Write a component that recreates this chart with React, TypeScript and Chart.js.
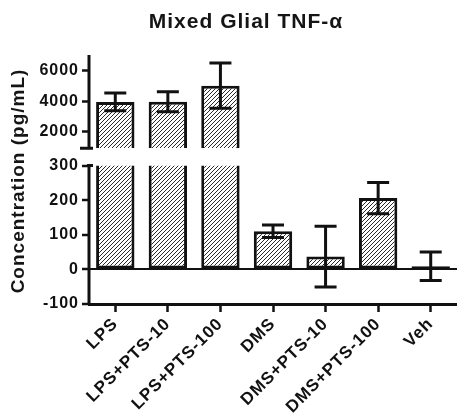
import React, { useEffect, useRef } from 'react';
import { Chart, registerables } from 'chart.js';

Chart.register(...registerables);

const categories = ['LPS', 'LPS+PTS-10', 'LPS+PTS-100', 'DMS', 'DMS+PTS-10', 'DMS+PTS-100', 'Veh'];
const means = [3960, 3975, 5030, 110, 37, 206, 9];
const sem = [590, 660, 1490, 18, 88, 45, 41];
const upperTicks = [2000, 4000, 6000];
const lowerTicks = [-100, 0, 100, 200, 300];
const upperRange = [900, 7050];
const lowerRange = [-100, 300];
const lowerScaleMax = 350;
const chartTitle = 'Mixed Glial TNF-\u03b1';
const yTitle = 'Concentration (pg/mL)';

const FONT = '"Liberation Sans", Arial, Helvetica, sans-serif';
const INK = '#111';

function makeHatch(ctx: CanvasRenderingContext2D): CanvasPattern | string {
  const c = document.createElement('canvas');
  c.width = 4;
  c.height = 4;
  const g = c.getContext('2d');
  if (!g) return '#999';
  g.fillStyle = '#ffffff';
  g.fillRect(0, 0, 4, 4);
  g.strokeStyle = '#2a2a2a';
  g.lineWidth = 1;
  g.beginPath();
  g.moveTo(0, 4); g.lineTo(4, 0);
  g.moveTo(-1, 1); g.lineTo(1, -1);
  g.moveTo(3, 5); g.lineTo(5, 3);
  g.stroke();
  return ctx.createPattern(c, 'repeat') || '#999';
}

const spacingPlugin = {
  id: 'spacing',
  beforeDraw(chart: any) {
    (chart.ctx as any).letterSpacing = '1px';
  },
};

const decorPlugin = {
  id: 'decor',
  afterDraw(chart: any) {
    const ctx: CanvasRenderingContext2D = chart.ctx;
    const xs = chart.scales.x;
    const top = chart.scales.yTop;
    const bot = chart.scales.yBot;
    const ax = chart.chartArea.left;
    ctx.save();
    ctx.strokeStyle = INK;
    ctx.lineWidth = 3;
    ctx.lineCap = 'butt';
    // broken y axis segments
    ctx.beginPath();
    const uTop = top.getPixelForValue(upperRange[1]);
    const uBot = top.getPixelForValue(upperRange[0]);
    ctx.moveTo(ax, uTop);
    ctx.lineTo(ax, uBot);
    ctx.moveTo(ax - 9, uBot);
    ctx.lineTo(ax + 4, uBot);
    const lTop = bot.getPixelForValue(lowerRange[1]);
    const lBot = bot.getPixelForValue(lowerRange[0]);
    ctx.moveTo(ax, lTop);
    ctx.lineTo(ax, lBot);
    ctx.moveTo(ax - 2, lTop);
    ctx.lineTo(ax + 4, lTop);
    ctx.stroke();

    // error bars
    means.forEach((m, i) => {
      const scale = m > lowerRange[1] ? top : bot;
      const x = xs.getPixelForValue(i);
      const yHi = scale.getPixelForValue(m + sem[i]);
      const yLo = scale.getPixelForValue(m - sem[i]);
      ctx.beginPath();
      ctx.moveTo(x, yHi);
      ctx.lineTo(x, yLo);
      ctx.moveTo(x - 11, yHi);
      ctx.lineTo(x + 11, yHi);
      ctx.moveTo(x - 11, yLo);
      ctx.lineTo(x + 11, yLo);
      ctx.stroke();
    });

    // title
    (ctx as any).letterSpacing = '1px';
    ctx.fillStyle = '#151515';
    ctx.font = `bold 21px ${FONT}`;
    ctx.textAlign = 'center';
    ctx.textBaseline = 'alphabetic';
    ctx.fillText(chartTitle, 246, 28);

    // y axis title
    ctx.translate(19, 181);
    ctx.rotate(-Math.PI / 2);
    ctx.font = `bold 19px ${FONT}`;
    ctx.textBaseline = 'middle';
    ctx.fillText(yTitle, 0, 0);
    ctx.restore();
  },
};

export default function App() {
  const ref = useRef<HTMLCanvasElement | null>(null);

  useEffect(() => {
    const canvas = ref.current;
    if (!canvas) return;
    const ctx = canvas.getContext('2d') as CanvasRenderingContext2D;
    const hatch = makeHatch(ctx);

    const upperData = means.map((v) => (v > upperRange[0] ? [upperRange[0], v] : null));
    const lowerData = means.map((v) => [0, Math.min(v, lowerRange[1])]);

    const tickFont = { family: FONT, size: 16, weight: 'bold' as const };

    const chart = new Chart(ctx, {
      type: 'bar',
      data: {
        labels: categories,
        datasets: [
          {
            label: 'upper',
            data: upperData as any,
            yAxisID: 'yTop',
            grouped: false,
            backgroundColor: hatch as any,
            borderColor: INK,
            borderWidth: { top: 3, left: 3, right: 3, bottom: 0 },
            borderSkipped: false,
            barPercentage: 0.73,
            categoryPercentage: 1,
          },
          {
            label: 'lower',
            data: lowerData as any,
            yAxisID: 'yBot',
            grouped: false,
            backgroundColor: hatch as any,
            borderColor: INK,
            borderWidth: ((c: any) =>
              means[c.dataIndex] > lowerRange[1]
                ? { top: 0, left: 3, right: 3, bottom: 3 }
                : 3) as any,
            borderSkipped: false,
            barPercentage: 0.73,
            categoryPercentage: 1,
          },
        ],
      },
      options: {
        responsive: false,
        animation: false,
        devicePixelRatio: 1,
        layout: { padding: { top: 55, left: 0, right: 0, bottom: 0 } },
        plugins: {
          legend: { display: false },
          title: { display: false },
          tooltip: { enabled: false },
        },
        scales: {
          x: {
            type: 'category',
            offset: true,
            grid: {
              display: true,
              drawOnChartArea: false,
              drawTicks: true,
              tickLength: 8,
              tickWidth: 2.5,
              tickColor: INK,
              offset: false,
            },
            border: { display: true, color: INK, width: 3 },
            ticks: {
              color: INK,
              font: { family: FONT, size: 17, weight: 'bold' },
              minRotation: 45,
              maxRotation: 45,
              autoSkip: false,
              padding: 2,
            },
            afterFit: (s: any) => {
              s.height = 114;
            },
          },
          yBot: {
            type: 'linear',
            position: 'left',
            stack: 'y',
            stackWeight: 155.7,
            weight: 1,
            min: lowerRange[0],
            max: lowerScaleMax,
            afterBuildTicks: (s: any) => {
              s.ticks = lowerTicks.map((v) => ({ value: v }));
            },
            grid: {
              drawOnChartArea: true,
              color: (c: any) => (c.tick && c.tick.value === 0 ? INK : 'rgba(0,0,0,0)'),
              lineWidth: 2,
              drawTicks: true,
              tickLength: 7,
              tickWidth: 2.5,
              tickColor: INK,
            },
            border: { display: false },
            ticks: {
              color: INK,
              font: tickFont,
              padding: 3,
              callback: (v: any) => String(v),
            },
            afterFit: (s: any) => {
              s.width = 89;
            },
          },
          yTop: {
            type: 'linear',
            position: 'left',
            stack: 'y',
            stackWeight: 93.3,
            weight: 2,
            min: upperRange[0],
            max: upperRange[1],
            afterBuildTicks: (s: any) => {
              s.ticks = upperTicks.map((v) => ({ value: v }));
            },
            grid: {
              drawOnChartArea: false,
              drawTicks: true,
              tickLength: 7,
              tickWidth: 2.5,
              tickColor: INK,
            },
            border: { display: false },
            ticks: {
              color: INK,
              font: tickFont,
              padding: 3,
              callback: (v: any) => String(v),
            },
            afterFit: (s: any) => {
              s.width = 89;
            },
          },
        } as any,
      },
      plugins: [spacingPlugin, decorPlugin],
    });

    return () => {
      chart.destroy();
    };
  }, []);

  return (
    <div style={{ position: 'absolute', left: 0, top: 0, width: 457, height: 418, background: '#fff' }}>
      <canvas ref={ref} width={457} height={418} style={{ display: 'block' }} />
    </div>
  );
}
